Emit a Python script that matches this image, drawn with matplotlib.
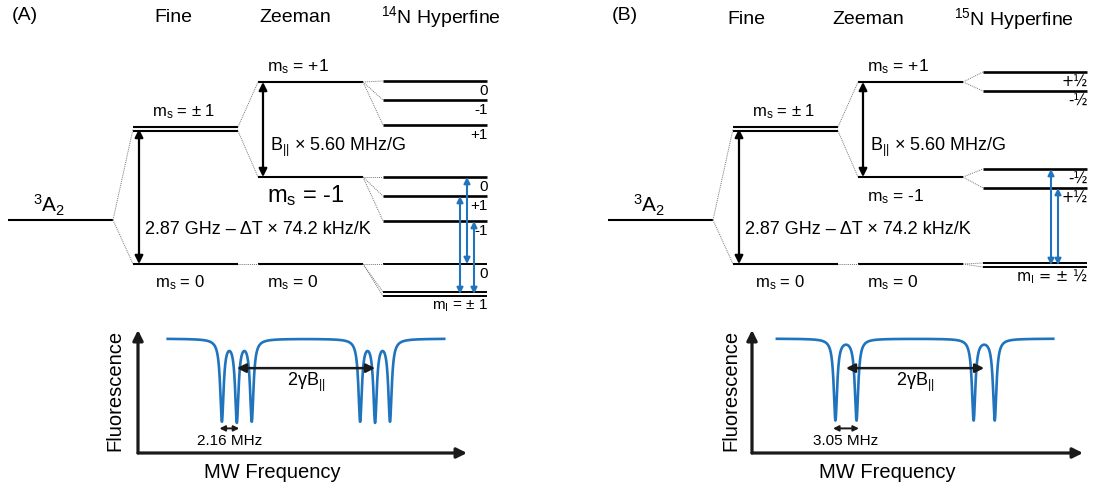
import numpy as np
import matplotlib.pyplot as plt

plt.rcParams['font.family'] = ['Liberation Sans', 'DejaVu Sans']
plt.rcParams['mathtext.fontset'] = 'custom'
plt.rcParams['mathtext.rm'] = 'Liberation Sans'
plt.rcParams['mathtext.it'] = 'Liberation Sans:italic'
plt.rcParams['mathtext.default'] = 'regular'

BLUE = '#1f74bd'
GREY = '#777777'

# --- level scheme (diagram rows, 0 = top) ---
ground_y = 220
fine_y = [127, 131, 264]            # ms = ±1 doublet, ms = 0
zeeman_y = [82, 177, 264]           # ms = +1, -1, 0

hf14_y = [[81, 100, 125], [177, 196, 221], [264, 292, 296]]
hf14_labels = [['0', '-1', '+1'], ['0', '+1', '-1'], ['0', None, 'm$_I$ = ± 1']]
hf15_y = [[72, 91], [169, 188], [263, 267]]
hf15_labels = [['+½', '-½'], ['-½', '+½'], [None, 'm$_I$ = ± ½']]

# MW transitions: x position, upper row, lower row
trans14 = [(460, 196, 294), (467, 177, 264), (474, 221, 294)]
trans15 = [(451, 169, 265), (458, 188, 265)]

# ODMR dips (MHz from the centre of the spectrum)
dips14 = [-12.16, -10.0, -7.84, 7.84, 10.0, 12.16]
dips15 = [-11.525, -8.475, 8.475, 11.525]
split14 = 2.16
split15 = 3.05

# column extents of each stage
col_ground = (8, 113)
col_fine = (133, 238)
col_zeeman = (258, 363)
col_hf = (383, 487)

fig = plt.figure(figsize=(10.99, 4.91), dpi=100)
ax = fig.add_axes([0, 0, 1, 1])
ax.set_xlim(0, 1099)
ax.set_ylim(491, 0)
ax.axis('off')


def level(x0, x1, y, lw=1.5):
    ax.plot([x0, x1], [y, y], color='k', lw=lw, solid_capstyle='butt')


def link(x0, y0, x1, y1):
    ax.plot([x0, x1], [y0, y1], color=GREY, lw=0.7, ls=(0, (1, 1)))


def varrow(x, y0, y1, color='k', ms=12, lw=1.6):
    ax.annotate('', xy=(x, y0), xytext=(x, y1),
                arrowprops=dict(arrowstyle='<|-|>', color=color, lw=lw,
                                mutation_scale=ms, shrinkA=0, shrinkB=0))


def panel(ox, tx, tag, iso, hf_y, hf_labels, trans, big_minus):
    # headings
    ty = 17 + (ox > 0) * 2
    ax.text(12 + ox, 15, tag, fontsize=14, ha='left', va='center')
    ax.text(173 + tx, ty, 'Fine', fontsize=14, ha='center', va='center')
    ax.text(295 + tx, ty, 'Zeeman', fontsize=14, ha='center', va='center')
    ax.text(441 + tx, ty, '$^{%s}$N Hyperfine' % iso, fontsize=14,
            ha='center', va='center')

    # ground state
    level(col_ground[0] + ox, col_ground[1] + ox, ground_y)
    ax.text(33 + ox, 205, '$^3$A$_2$', fontsize=15, ha='left', va='center')

    # fine structure
    for y in fine_y:
        level(col_fine[0] + ox, col_fine[1] + ox, y)
    link(col_ground[1] + ox, ground_y, col_fine[0] + ox, fine_y[0] + 2)
    link(col_ground[1] + ox, ground_y, col_fine[0] + ox, fine_y[2])
    ax.text(152 + ox, 112, 'm$_s$ = ± 1', fontsize=12, ha='left', va='center')
    ax.text(155 + ox, 283, 'm$_s$ = 0', fontsize=12, ha='left', va='center')
    varrow(139 + ox, fine_y[0] + 2, fine_y[2])
    ax.text(145 + ox, 230, '2.87 GHz – ΔT × 74.2 kHz/K', fontsize=13,
            ha='left', va='center')

    # Zeeman splitting
    for y in zeeman_y:
        level(col_zeeman[0] + ox, col_zeeman[1] + ox, y)
    link(col_fine[1] + ox, fine_y[0], col_zeeman[0] + ox, zeeman_y[0])
    link(col_fine[1] + ox, fine_y[1], col_zeeman[0] + ox, zeeman_y[1])
    link(col_fine[1] + ox, fine_y[2], col_zeeman[0] + ox, zeeman_y[2])
    ax.text(267 + ox, 67, 'm$_s$ = +1', fontsize=12.5, ha='left', va='center')
    if big_minus:
        ax.text(267 + ox, 196, 'm$_s$ = -1', fontsize=17, ha='left', va='center')
    else:
        ax.text(267 + ox, 197, 'm$_s$ = -1', fontsize=12.5, ha='left', va='center')
    ax.text(267 + ox, 283, 'm$_s$ = 0', fontsize=12.5, ha='left', va='center')
    varrow(263 + ox, zeeman_y[0], zeeman_y[1])
    ax.text(270 + ox, 147, 'B$_{||}$ × 5.60 MHz/G', fontsize=13, ha='left', va='center')

    # nuclear hyperfine levels
    for zy, group, labels in zip(zeeman_y, hf_y, hf_labels):
        close = np.diff(group).min() < 6
        for y, lab in zip(group, labels):
            level(col_hf[0] + ox, col_hf[1] + ox, y, lw=1.4 if close else 1.9)
            link(col_zeeman[1] + ox, zy, col_hf[0] + ox, y)
            if lab:
                # Liberation's ½ glyph is tiny, DejaVu's reads better
                fam = ['DejaVu Sans'] if '½' in lab else None
                ax.text(col_hf[1] + ox + 1, y + 10, lab, fontsize=10.5 if fam else 11,
                        family=fam, ha='right', va='center')

    for x, y0, y1 in trans:
        varrow(x + ox, y0, y1, color=BLUE, ms=9, lw=1.5)


panel(0, 0, '(A)', '14', hf14_y, hf14_labels, trans14, True)
panel(600, 573, '(B)', '15', hf15_y, hf15_labels, trans15, False)


def spectrum(left, right, xlim, dips, split, split_text, label_x):
    sa = fig.add_axes([left / 1099, (491 - 453) / 491,
                       (right - left) / 1099, (453 - 330) / 491])
    sa.set_xlim(*xlim)
    sa.set_ylim(0, 1)
    sa.axis('off')

    f = np.linspace(-20, 20, 3000)
    hw = 0.3
    sig = np.full_like(f, 0.93)
    for d in dips:
        sig -= 0.66 * hw ** 2 / ((f - d) ** 2 + hw ** 2)
    sa.plot(f, sig, color=BLUE, lw=1.9)

    for end in [(1, 0), (0, 1)]:
        sa.annotate('', xy=end, xytext=(0, 0), xycoords='axes fraction',
                    textcoords='axes fraction', annotation_clip=False,
                    arrowprops=dict(arrowstyle='-|>', color='#1a1a1a', lw=2.3,
                                    mutation_scale=15, shrinkA=0, shrinkB=0))

    # Zeeman splitting between the two groups
    mid = len(dips) // 2
    lo = np.mean(dips[:mid])
    hi = np.mean(dips[mid:])
    sa.annotate('', xy=(lo, 0.69), xytext=(hi, 0.69),
                arrowprops=dict(arrowstyle='<|-|>', color='#1a1a1a', lw=1.8,
                                mutation_scale=13, shrinkA=0, shrinkB=0))
    sa.text(0, 0.57, '2γB$_{||}$', fontsize=13, ha='center', va='center')

    # hyperfine spacing
    pad = 0.35
    sa.annotate('', xy=(dips[0] - pad, 0.2), xytext=(dips[0] + split + pad, 0.2),
                arrowprops=dict(arrowstyle='<|-|>', color='#1a1a1a', lw=1.4,
                                mutation_scale=8, shrinkA=0, shrinkB=0))
    sa.text(dips[0] + split / 2, 0.1, split_text, fontsize=11,
            ha='center', va='center')

    ax.text(label_x, 390, 'Fluorescence', fontsize=14.5, rotation=90,
            ha='center', va='center')
    ax.text((left + right) / 2 - 30, 473, 'MW Frequency', fontsize=14.5,
            ha='center', va='center')


spectrum(138, 467, (-24.3, 23.3), dips14, split14, '2.16 MHz', 115)
spectrum(752, 1083, (-23.6, 24.3), dips15, split15, '3.05 MHz', 731)

fig.savefig('out.png', dpi=100)
